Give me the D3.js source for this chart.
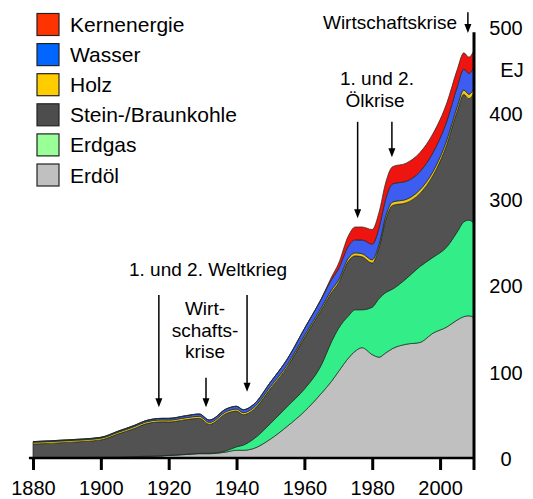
<!DOCTYPE html>
<html>
<head>
<meta charset="utf-8">
<script src="https://cdn.jsdelivr.net/npm/d3@7"></script>
<style>
  body { margin: 0; background: #fff; }
  svg { display: block; font-family: "Liberation Sans", Arial, sans-serif; }
</style>
</head>
<body>
<div id="chart"></div>
<script>
// Weltenergieverbrauch nach Energieträgern, EJ pro Jahr
const years  = [1880, 1890, 1900, 1905, 1910, 1913, 1918, 1920, 1925, 1929, 1932, 1937, 1940, 1942, 1945, 1950, 1955, 1960, 1965, 1968, 1970, 1973, 1975, 1977, 1980, 1982, 1984, 1986, 1990, 1994, 1998, 2002, 2005, 2007, 2008.5, 2010];
const erdoel = [0.3, 0.5, 0.8, 1, 1.5, 2, 2.5, 3, 4, 5, 5, 7, 9, 9, 11, 22, 37, 54, 75, 89, 100, 116, 124, 128, 120, 117, 122, 127, 132, 134, 145, 152, 160, 164, 165, 163];
const erdgas = [0, 0, 0, 0, 0.1, 0.1, 0.1, 0.2, 0.3, 0.4, 0.5, 1.5, 4, 6, 11, 18, 23, 26, 33, 46, 50, 49, 48, 44, 55, 68, 70, 69, 76, 88, 88, 93, 102, 110, 111, 109];
const kohle  = [15.9, 17.6, 20.2, 26.8, 32.8, 37.2, 39.4, 38.6, 40.1, 40.7, 33.5, 43.2, 41.4, 35.2, 34, 40.5, 46, 59.4, 63.9, 57, 52.8, 63.5, 62.5, 61.4, 51.2, 59.2, 85, 97, 88, 84.6, 95.4, 119, 140, 147.8, 140.8, 151.5];
const holz   = [2, 2, 2, 2, 2.2, 2.2, 2.2, 2.2, 2.3, 2.3, 2.3, 2.3, 2.4, 2.4, 2.4, 2.5, 2.5, 2.6, 2.6, 3, 3.2, 3.5, 3.5, 3.6, 3.8, 3.8, 4, 4, 4, 4.4, 4.6, 5, 5, 5.2, 5.2, 5.5];
const wasser = [0.8, 0.9, 1, 1.2, 1.4, 1.5, 1.8, 2, 2.3, 2.6, 2.7, 3, 3.2, 3.4, 3.6, 5, 6.5, 8, 10, 12, 13, 14, 15, 16, 18, 19, 20, 21, 21, 21, 22, 22, 23, 24, 24, 25];
const kern   = [0, 0, 0, 0, 0, 0, 0, 0, 0, 0, 0, 0, 0, 0, 0, 0, 0, 0, 0.5, 3, 6, 12, 15, 15, 17, 18, 19, 20, 21, 22, 22, 21, 20, 19, 19, 19];

const keys = ["erdoel", "erdgas", "kohle", "holz", "wasser", "kern"];
const areaColors = ["#c0c0c0", "#33ee88", "#525252", "#f0c419", "#3d5cf0", "#ee1410"];

const legendLabels = ["Kernenergie", "Wasser", "Holz", "Stein-/Braunkohle", "Erdgas", "Erdöl"];
const legendColors = ["#ff3300", "#0066ff", "#ffcc00", "#4d4d4d", "#99ff99", "#c0c0c0"];

const xTicks = [1880, 1900, 1920, 1940, 1960, 1980, 2000];
const yTicks = [0, 100, 200, 300, 400, 500];

// Pfeile: Jahr, Start und Spitze in EJ
const arrows = [
  { jahr: 1917.1, von: 189, bis: 59 },
  { jahr: 1931.0, von: 93, bis: 59 },
  { jahr: 1943.1, von: 189, bis: 77 },
  { jahr: 1975.7, von: 390, bis: 278 },
  { jahr: 1985.8, von: 390, bis: 349 },
  { jahr: 2008.2, von: 517, bis: 493 }
];
const notes = [
  { text: "Wirtschaftskrise", jahr: 2005.0, wert: 497.7, anchor: "end" },
  { text: "1. und 2.", jahr: 1981.4, wert: 432.7, anchor: "middle" },
  { text: "Ölkrise", jahr: 1980.8, wert: 407.2, anchor: "middle" },
  { text: "1. und 2. Weltkrieg", jahr: 1908.3, wert: 211.1, anchor: "start" },
  { text: "Wirt-", jahr: 1930.7, wert: 165.9, anchor: "middle" },
  { text: "schafts-", jahr: 1930.7, wert: 140.4, anchor: "middle" },
  { text: "krise", jahr: 1930.7, wert: 116.0, anchor: "middle" }
];

const width = 533, height = 499;

let rows = years.map((yr, i) => ({
  year: yr,
  erdoel: erdoel[i], erdgas: erdgas[i], kohle: kohle[i],
  holz: holz[i], wasser: wasser[i], kern: kern[i]
}));

let x = d3.scaleLinear().domain([1880, 2010]).range([33, 474]);
let y = d3.scaleLinear().domain([0, 500]).range([458, 27]);

let svg = d3.select("#chart").append("svg")
    .attr("width", width)
    .attr("height", height);

let series = d3.stack().keys(keys)(rows);

let area = d3.area()
    .x(d => x(d.data.year))
    .y0(d => y(d[0]))
    .y1(d => y(d[1]))
    .curve(d3.curveMonotoneX);

svg.append("g")
    .selectAll("path")
    .data(series)
    .enter().append("path")
    .attr("d", area)
    .attr("fill", (d, i) => areaColors[i])
    .attr("stroke", "#1e2a1e")
    .attr("stroke-width", 0.7)
    .attr("stroke-linejoin", "round");

// x-Achse
let xAxis = svg.append("g")
    .attr("transform", `translate(0,${y(0)})`)
    .call(d3.axisBottom(x).tickValues(xTicks).tickSize(12).tickSizeOuter(0).tickFormat(d3.format("d")));

xAxis.select(".domain")
    .attr("d", `M${x(1878.8)},0H${x(2010)}`)
    .attr("stroke", "#000")
    .attr("stroke-width", 2.5);
xAxis.selectAll(".tick line")
    .attr("stroke", "#000")
    .attr("stroke-width", 3);
xAxis.selectAll(".tick text")
    .attr("y", 37)
    .attr("dy", 0)
    .attr("fill", "#000")
    .style("font-size", "20px")
    .style("font-family", "Liberation Sans, Arial, sans-serif");

// rechte Achse
svg.append("line")
    .attr("x1", x(2010)).attr("x2", x(2010))
    .attr("y1", y(494)).attr("y2", y(0) + 12)
    .attr("stroke", "#000")
    .attr("stroke-width", 3);

let yAxis = svg.append("g")
    .attr("transform", `translate(${x(2010)},0)`)
    .call(d3.axisRight(y).tickValues(yTicks).tickSize(0).tickFormat(d3.format("d")));

yAxis.select(".domain").remove();
yAxis.selectAll(".tick text")
    .attr("x", 32)
    .attr("dy", "0.36em")
    .attr("text-anchor", "middle")
    .attr("fill", "#000")
    .style("font-size", "20px")
    .style("font-family", "Liberation Sans, Arial, sans-serif");

svg.append("text")
    .attr("x", x(2010) + 38)
    .attr("y", y(450))
    .attr("dy", "0.36em")
    .attr("text-anchor", "middle")
    .style("font-size", "20px")
    .text("EJ");

// Legende
let legend = svg.append("g")
    .selectAll("g")
    .data(legendLabels)
    .enter().append("g")
    .attr("transform", (d, i) => `translate(37,${13.5 + i * 30.1})`);

legend.append("rect")
    .attr("width", 22)
    .attr("height", 22)
    .attr("fill", (d, i) => legendColors[i])
    .attr("stroke", "#222")
    .attr("stroke-width", 1.2);

legend.append("text")
    .attr("x", 33)
    .attr("y", 18.5)
    .style("font-size", "21px")
    .text(d => d);

// Pfeile
let arrowG = svg.append("g")
    .selectAll("g")
    .data(arrows)
    .enter().append("g");

arrowG.append("line")
    .attr("x1", d => x(d.jahr)).attr("x2", d => x(d.jahr))
    .attr("y1", d => y(d.von)).attr("y2", d => y(d.bis) - 6)
    .attr("stroke", "#000")
    .attr("stroke-width", 1.5);

arrowG.append("path")
    .attr("d", d => {
        let px = x(d.jahr), py = y(d.bis);
        return `M${px - 3.5},${py - 9}L${px + 3.5},${py - 9}L${px},${py}Z`;
    })
    .attr("fill", "#000");

svg.append("g")
    .selectAll("text")
    .data(notes)
    .enter().append("text")
    .attr("x", d => x(d.jahr))
    .attr("y", d => y(d.wert))
    .attr("text-anchor", d => d.anchor)
    .style("font-size", "19px")
    .text(d => d.text);
</script>
</body>
</html>
